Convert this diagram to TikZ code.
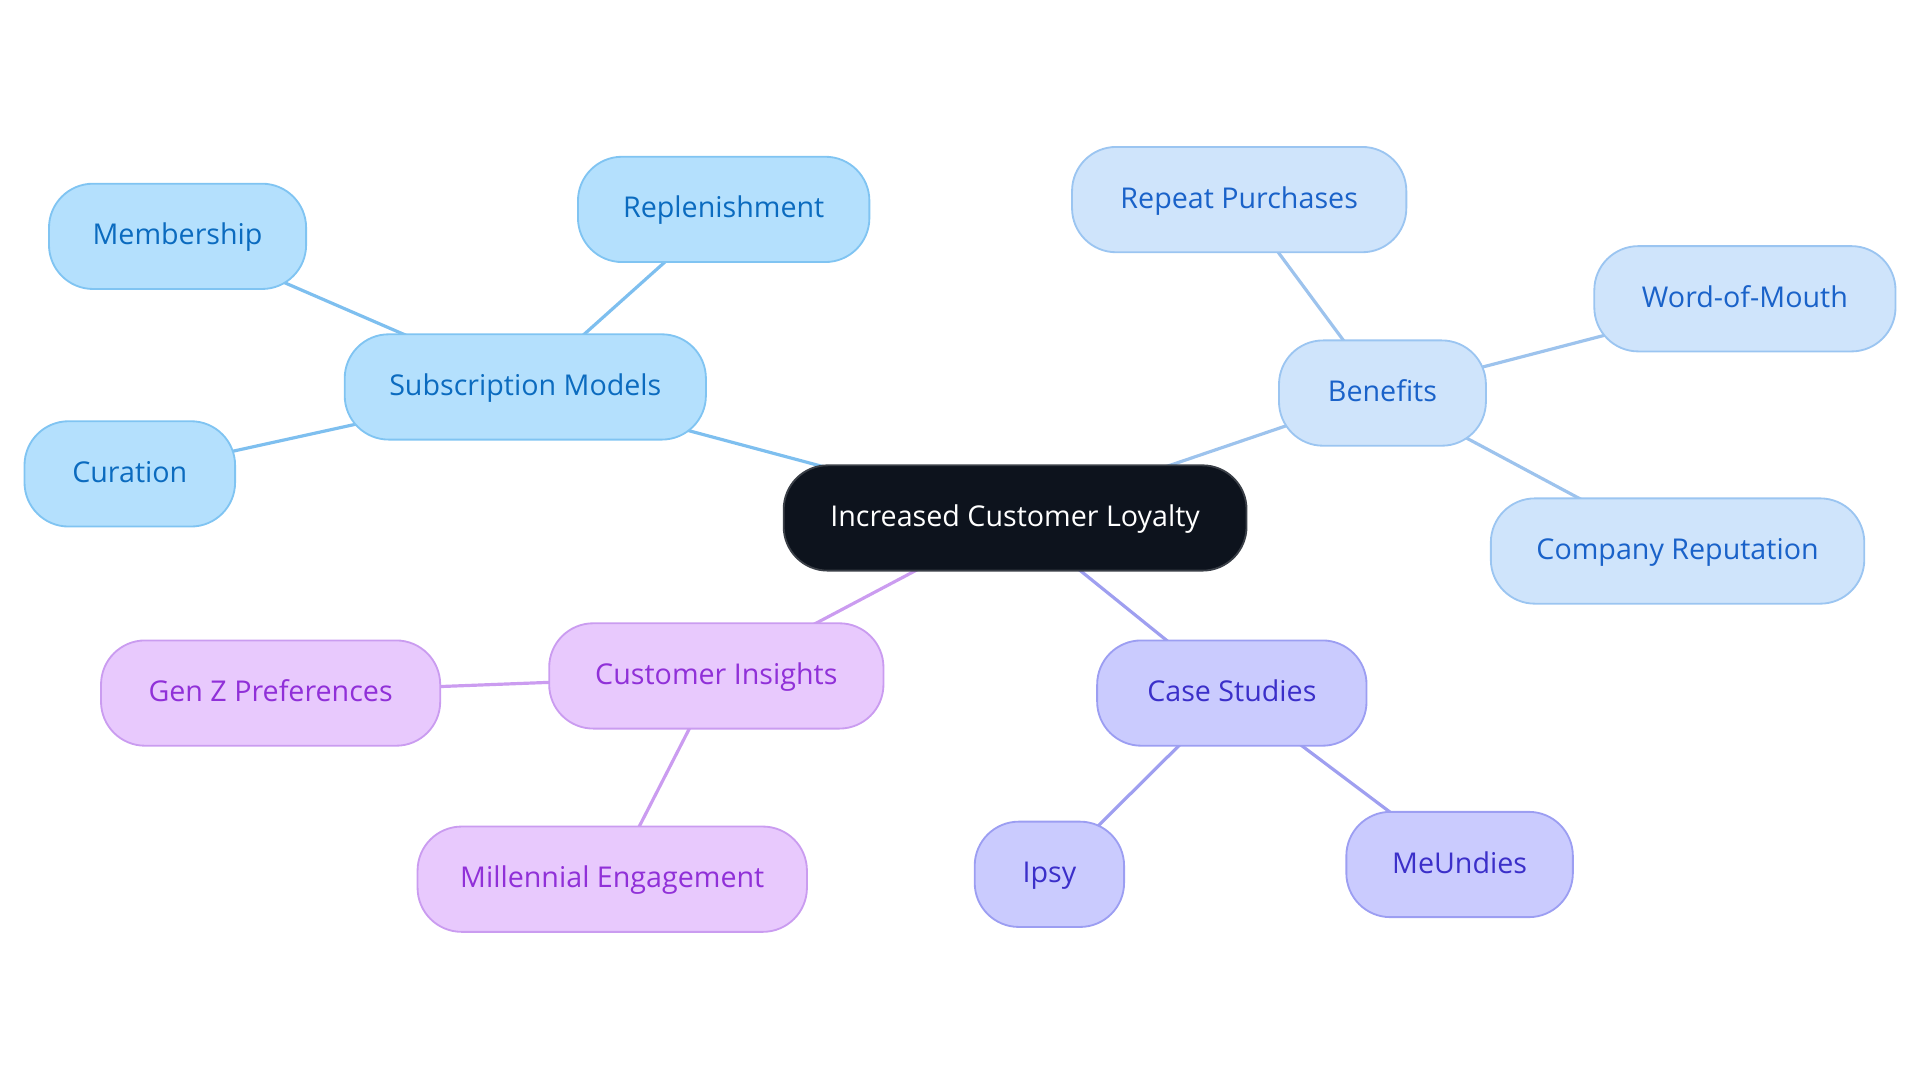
\documentclass[tikz,border=0pt]{standalone}
\usepackage{fontspec}
\setmainfont{Open Sans}
\usetikzlibrary{backgrounds}
\definecolor{cfill}{HTML}{0D131D}
\definecolor{cdraw}{HTML}{3A3F47}
\definecolor{bfill}{HTML}{B4E0FD}
\definecolor{bdraw}{HTML}{80C4F2}
\definecolor{btext}{HTML}{0B6BBF}
\definecolor{bedge}{HTML}{7EBFEF}
\definecolor{lfill}{HTML}{CFE4FB}
\definecolor{ldraw}{HTML}{9BC5F1}
\definecolor{ltext}{HTML}{1A62C9}
\definecolor{ledge}{HTML}{9DC3ED}
\definecolor{pfill}{HTML}{E8C9FD}
\definecolor{pdraw}{HTML}{CA9CF0}
\definecolor{ptext}{HTML}{9030D8}
\definecolor{pedge}{HTML}{CB9CF0}
\definecolor{vfill}{HTML}{CACBFE}
\definecolor{vdraw}{HTML}{9C9EF2}
\definecolor{vtext}{HTML}{3B2FC9}
\definecolor{vedge}{HTML}{9F9FF0}
\tikzset{
  box/.style={rectangle, rounded corners=36pt, line width=1.5pt, minimum height=86pt, inner sep=0pt, text height=17pt, text depth=3pt, font=\fontsize{23.4}{28}\selectfont},
  cnode/.style={box, fill=cfill, draw=cdraw, text=white},
  bnode/.style={box, fill=bfill, draw=bdraw, text=btext},
  lnode/.style={box, fill=lfill, draw=ldraw, text=ltext},
  pnode/.style={box, fill=pfill, draw=pdraw, text=ptext},
  vnode/.style={box, fill=vfill, draw=vdraw, text=vtext},
  bline/.style={line width=2.6pt, draw=bedge},
  lline/.style={line width=2.6pt, draw=ledge},
  pline/.style={line width=2.6pt, draw=pedge},
  vline/.style={line width=2.6pt, draw=vedge},
}
\begin{document}
\begin{tikzpicture}[x=1pt,y=-1pt]
\useasboundingbox (0,0) rectangle (1568,884.4);
% nodes
\node[cnode, minimum width=378pt] (root) at (829,423) {Increased Customer Loyalty};
\node[bnode, minimum width=295pt] (sub) at (429,316) {Subscription Models};
\node[bnode, minimum width=238pt] (rep) at (591,171) {Replenishment};
\node[bnode, minimum width=210pt] (mem) at (145,193) {Membership};
\node[bnode, minimum width=172pt] (cur) at (106,387) {Curation};
\node[lnode, minimum width=169pt] (ben) at (1129,321) {Benefits};
\node[lnode, minimum width=273pt] (rpp) at (1012,163) {Repeat Purchases};
\node[lnode, minimum width=246pt] (wom) at (1425,244) {Word-of-Mouth};
\node[lnode, minimum width=305pt] (rpt) at (1370,450) {Company Reputation};
\node[pnode, minimum width=273pt] (ins) at (585,552) {Customer Insights};
\node[pnode, minimum width=277pt] (genz) at (221,566) {Gen Z Preferences};
\node[pnode, minimum width=318pt] (mil) at (500,718) {Millennial Engagement};
\node[vnode, minimum width=220pt] (cas) at (1006,566) {Case Studies};
\node[vnode, minimum width=122pt] (ipsy) at (857,714) {Ipsy};
\node[vnode, minimum width=185pt] (meu) at (1192,706) {MeUndies};
% edges behind nodes
\begin{scope}[on background layer]
\draw[bline] (root.center) -- (sub.center);
\draw[bline] (sub.center) -- (rep.center);
\draw[bline] (sub.center) -- (mem.center);
\draw[bline] (sub.center) -- (cur.center);
\draw[lline] (root.center) -- (ben.center);
\draw[lline] (ben.center) -- (rpp.center);
\draw[lline] (ben.center) -- (wom.center);
\draw[lline] (ben.center) -- (rpt.center);
\draw[pline] (root.center) -- (ins.center);
\draw[pline] (ins.center) -- (genz.center);
\draw[pline] (ins.center) -- (mil.center);
\draw[vline] (root.center) -- (cas.center);
\draw[vline] (cas.center) -- (ipsy.center);
\draw[vline] (cas.center) -- (meu.center);
\end{scope}
\end{tikzpicture}
\end{document}
